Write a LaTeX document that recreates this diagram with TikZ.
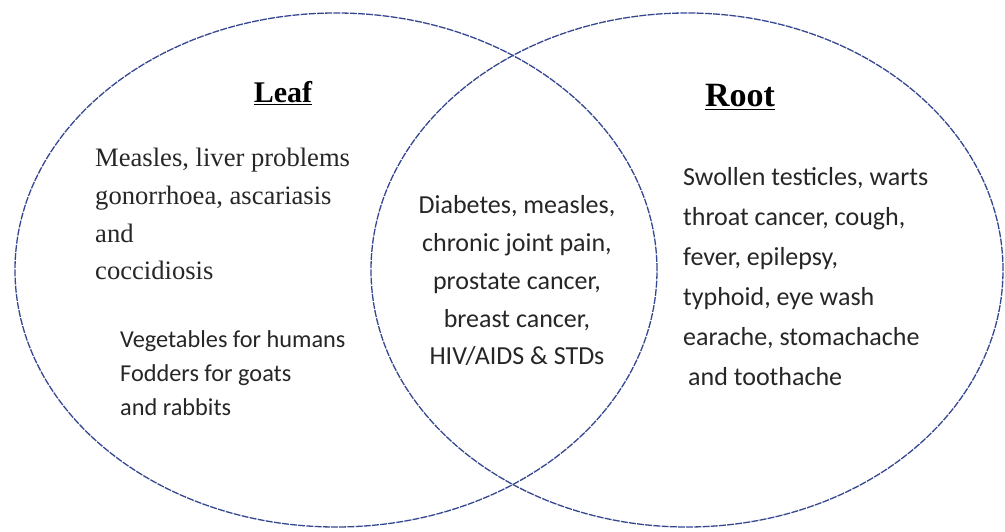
\documentclass[tikz,border=0pt]{standalone}
\usepackage{fontspec}
\setmainfont{Liberation Serif}
\newfontfamily\calibrifont{Carlito}
\usetikzlibrary{positioning}
\definecolor{setblue}{HTML}{34478F}
\definecolor{inkgray}{HTML}{262626}

\begin{document}
\begin{tikzpicture}[
    x=1pt, y=1pt,
    setline/.style={setblue, line width=1.3pt, dash pattern=on 7pt off 1.2pt},
    title/.style={inner sep=0pt, anchor=base, text=black, font=\bfseries},
    % multi-line nodes sit on the baseline of their last line
    serifbox/.style={inner sep=0pt, anchor=base west, align=left, text=inkgray,
        font={\fontsize{26.6}{37.7}\selectfont}},
    sansbox/.style={inner sep=0pt, align=left, text=inkgray,
        font={\calibrifont\fontsize{26}{40}\selectfont}}
]
\useasboundingbox (0,0) rectangle (1005,531);

% -------- the two sets --------
\draw[setline] (336,261) ellipse [x radius=321, y radius=257];
\draw[setline] (687,261) ellipse [x radius=316, y radius=257];

% -------- headings --------
\node[title, font={\bfseries\fontsize{30}{36}\selectfont}] (leaf) at (283,428) {\underline{Leaf}};
\node[title, font={\bfseries\fontsize{34}{40}\selectfont}] (root) at (740,424) {\underline{Root}};

% -------- leaf only --------
\node[serifbox] (leafuses) at (95,251) {Measles, liver problems\\gonorrhoea, ascariasis\\and\\coccidiosis};
\node[sansbox, anchor=base west, font={\calibrifont\fontsize{24.3}{34}\selectfont}] (leaffood) at (120,116)
    {Vegetables for humans\\Fodders for goats\\and rabbits};

% -------- both --------
\node[sansbox, anchor=base, align=center, font={\calibrifont\fontsize{26}{38}\selectfont}] (common) at (517,166)
    {Diabetes, measles,\\chronic joint pain,\\prostate cancer,\\breast cancer,\\HIV/AIDS \& STDs};

% -------- root only --------
\node[sansbox, anchor=base west] (rootuses) at (683,146)
    {Swollen testicles, warts\\throat cancer, cough,\\fever, epilepsy,\\typhoid, eye wash\\earache, stomachache\\\hspace*{5pt}and toothache};
\end{tikzpicture}
\end{document}
